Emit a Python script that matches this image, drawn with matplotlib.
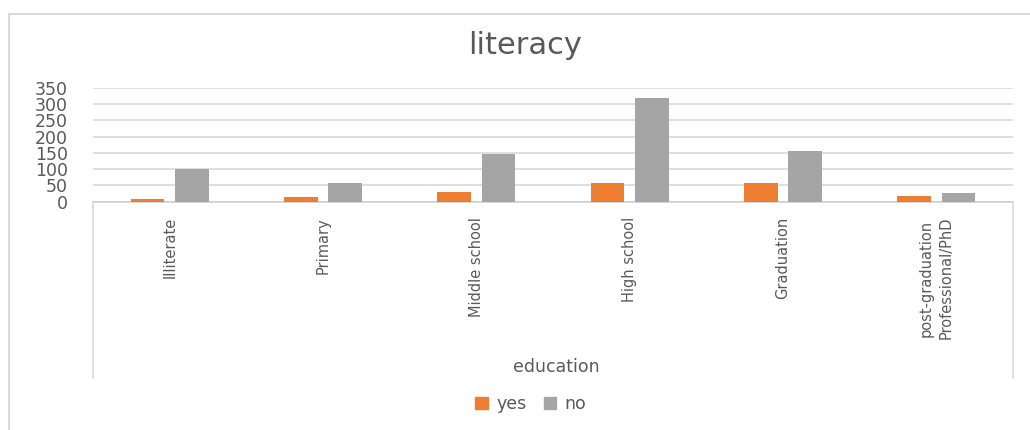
import matplotlib.pyplot as plt
import numpy as np
from matplotlib.lines import Line2D
from matplotlib.patches import Patch

plt.rcParams['font.family'] = ['DejaVu Sans']

categories = ['Illiterate', 'Primary', 'Middle school', 'High school',
              'Graduation', 'post-graduation\nProfessional/PhD']
yes_counts = [7, 13, 31, 56, 56, 17]
no_counts = [100, 56, 146, 317, 155, 26]
y_ticks = [0, 50, 100, 150, 200, 250, 300, 350]

ORANGE = '#ED7D31'
GREY = '#A5A5A5'
TEXT = '#595959'
LINE = '#D9D9D9'

W, H = 1030, 430
fig = plt.figure(figsize=(W / 100, H / 100), dpi=100)

# plot area in pixel terms
left, right, top, base = 93, 1013, 87.7, 201.7
ax = fig.add_axes([left / W, 1 - base / H, (right - left) / W, (base - top) / H])

x = np.arange(len(categories))
bw = 0.22
off = 0.145
ax.bar(x - off, yes_counts, bw, color=ORANGE, label='yes', zorder=3)
ax.bar(x + off, no_counts, bw, color=GREY, label='no', zorder=3)

ax.set_xlim(-0.5, len(categories) - 0.5)
ax.set_ylim(0, 350)
ax.set_yticks(y_ticks)
ax.set_yticklabels([str(t) for t in y_ticks], fontsize=12.5, color=TEXT)
ax.set_xticks(x)
ax.set_xticklabels(categories, rotation=90, va='top', ha='center',
                   fontsize=10.5, color=TEXT, linespacing=1.4)
ax.tick_params(axis='both', length=0)
ax.tick_params(axis='x', pad=11)
ax.tick_params(axis='y', pad=18)
ax.grid(axis='y', color=LINE, linewidth=1.2, zorder=0)
for s in ['top', 'right', 'left']:
    ax.spines[s].set_visible(False)
ax.spines['bottom'].set_color('#CFCFCF')
ax.spines['bottom'].set_linewidth(1.2)

# category axis box sides
lower = 378
for px in (left, right):
    fig.add_artist(Line2D([px / W, px / W], [1 - base / H, 1 - lower / H],
                          color=LINE, linewidth=1.2))

# chart outline
fig.add_artist(Line2D([9 / W, 9 / W], [1 - 14 / H, 0], color=LINE, linewidth=1.5))
fig.add_artist(Line2D([9 / W, 1], [1 - 14 / H, 1 - 14 / H], color=LINE, linewidth=1.5))

fig.text(525 / W, 1 - 46 / H, 'literacy', fontsize=22, color=TEXT,
         ha='center', va='center')
fig.text(556 / W, 1 - 367 / H, 'education', fontsize=12.5, color=TEXT,
         ha='center', va='center')

handles = [Patch(color=ORANGE, label='yes'), Patch(color=GREY, label='no')]
fig.legend(handles=handles, loc='center', bbox_to_anchor=(531 / W, 1 - 404 / H),
           ncol=2, frameon=False, fontsize=12.5, labelcolor=TEXT,
           handlelength=0.7, handleheight=0.7, handletextpad=0.5,
           columnspacing=1.0)

fig.savefig('out.png', dpi=100)
